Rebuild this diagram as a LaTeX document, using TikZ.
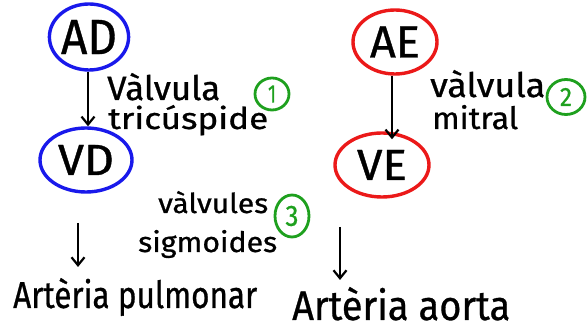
\documentclass[tikz,border=0pt]{standalone}
\usepackage{fontspec}
\setmainfont{Fira Sans}[FakeBold=0.8]
\usetikzlibrary{shapes.geometric,arrows.meta}
\definecolor{chblue}{RGB}{25,25,235}
\definecolor{chred}{RGB}{235,25,25}
\definecolor{numgreen}{RGB}{30,160,30}
\newcommand\fwh[3]{\resizebox{#1pt}{#2pt}{#3}}
\begin{document}
\begin{tikzpicture}[x=1pt,y=-1pt,
  chamber/.style={ellipse, draw, line width=3.4pt, inner sep=0pt},
  num/.style={ellipse, draw=numgreen, line width=2.8pt, text=numgreen, inner sep=0pt},
  flow/.style={-{Straight Barb[length=8pt,width=13pt]}, line width=2.2pt},
  lbl/.style={anchor=base west, inner sep=0pt, text=black}]
\useasboundingbox (0,0) rectangle (587,336);
% chambers
\node[chamber, draw=chblue, minimum width=78pt, minimum height=66pt] (AD) at (89,37) {\fwh{56}{34}{AD}};
\node[chamber, draw=chblue, minimum width=92pt, minimum height=64pt] (VD) at (86,160) {\fwh{56}{30}{VD}};
\node[chamber, draw=chred, minimum width=84pt, minimum height=64pt] (AE) at (395,42) {\fwh{50}{31}{AE}};
\node[chamber, draw=chred, minimum width=94pt, minimum height=64pt] (VE) at (382,165) {\fwh{50}{30}{VE}};
% arrows
\coordinate (a1) at (AD.south -| 88,0);
\coordinate (e1) at (AE.south -| 392,0);
\draw[flow] (a1) -- (a1 |- VD.north);
\draw[flow, shorten >=-8pt] (e1) -- (e1 |- VE.north);
\coordinate (p1) at (78,223);
\coordinate (p2) at (78,267);
\coordinate (q1) at (340,227);
\coordinate (q2) at (340,280);
\draw[flow] (p1) -- (p2);
\draw[flow] (q1) -- (q2);
% labels
\node[lbl] (t1a) at (107,100) {\fwh{113}{27}{Vàlvula}};
\node[lbl] (t1b) at (108,129) {\fwh{160}{24}{tricúspide}};
\node[lbl] (t2a) at (430,97) {\fwh{115}{27}{vàlvula}};
\node[lbl] (t2b) at (432,129) {\fwh{86}{24}{mitral}};
\node[lbl] (t3a) at (158,213) {\fwh{110}{22}{vàlvules}};
\node[lbl] (t3b) at (138,252) {\fwh{139}{22}{sigmoides}};
\node[lbl] (pul) at (13,308) {\fwh{244}{30}{Artèria pulmonar}};
\node[lbl] (aor) at (292,320) {\fwh{218}{33}{Artèria aorta}};
% numbers
\node[num, minimum width=34pt, minimum height=32pt] (n1) at (272,94) {\fwh{8}{17}{1}};
\node[num, minimum width=38pt, minimum height=35pt] (n2) at (566,97) {\fwh{12}{18}{2}};
\node[num, minimum width=34pt, minimum height=42pt] (n3) at (292,216) {\fwh{13}{20}{3}};
\end{tikzpicture}
\end{document}
